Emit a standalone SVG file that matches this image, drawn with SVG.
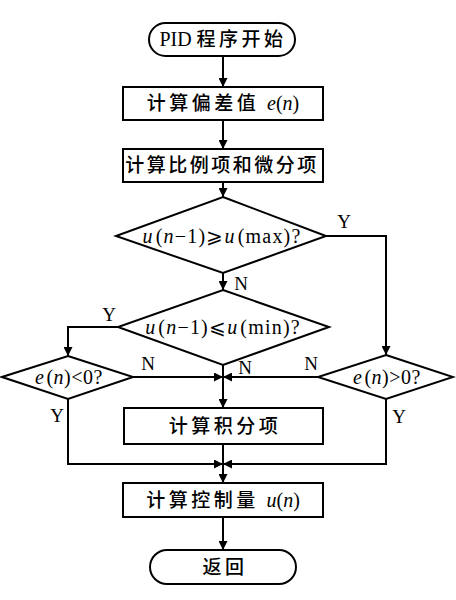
<svg xmlns="http://www.w3.org/2000/svg" width="456" height="600" viewBox="0 0 456 600">
<defs>
<marker id="ah" viewBox="0 0 10 10" refX="10" refY="5" markerWidth="10" markerHeight="9" markerUnits="userSpaceOnUse" orient="auto">
<path d="M0,0 L10,5 L0,10 Z" fill="#000"/>
</marker>
</defs>
<style>
.s{fill:#fff;stroke:#000;stroke-width:2}
.c{fill:none;stroke:#000;stroke-width:2}
.t{font-family:"Noto Sans CJK SC","Liberation Serif",serif;font-size:19px;font-weight:500;letter-spacing:3.5px;text-anchor:middle;fill:#000}
.m{font-family:"Liberation Serif","DejaVu Serif","Noto Sans CJK SC",serif;font-size:20px;letter-spacing:1.2px;text-anchor:middle;fill:#000}
.i{font-style:italic}
.l{font-family:"Liberation Serif",serif;font-size:19px;fill:#000;text-anchor:middle}
</style>
<rect width="456" height="600" fill="#fff"/>
<g id="connectors">
<line class="c" x1="223" y1="56" x2="223" y2="87" marker-end="url(#ah)"/>
<line class="c" x1="223" y1="120" x2="223" y2="149" marker-end="url(#ah)"/>
<line class="c" x1="223" y1="182" x2="223" y2="197" marker-end="url(#ah)"/>
<line class="c" x1="223" y1="273" x2="223" y2="290" marker-end="url(#ah)"/>
<polyline class="c" points="326,236 386,236 386,355" marker-end="url(#ah)"/>
<polyline class="c" points="118,327 68,327 68,356" marker-end="url(#ah)"/>
<line class="c" x1="133" y1="377" x2="223" y2="377" marker-end="url(#ah)"/>
<line class="c" x1="318" y1="377" x2="223" y2="377" marker-end="url(#ah)"/>
<line class="c" x1="223" y1="365" x2="223" y2="408" marker-end="url(#ah)"/>
<polyline class="c" points="68,399 68,464 223,464" marker-end="url(#ah)"/>
<polyline class="c" points="386,399 386,464 223,464" marker-end="url(#ah)"/>
<line class="c" x1="223" y1="444" x2="223" y2="483" marker-end="url(#ah)"/>
<line class="c" x1="223" y1="517" x2="223" y2="550" marker-end="url(#ah)"/>
<text class="l" x="344" y="228">Y</text>
<text class="l" x="241" y="290">N</text>
<text class="l" x="109" y="321">Y</text>
<text class="l" x="148" y="370">N</text>
<text class="l" x="311" y="370">N</text>
<text class="l" x="245" y="374">N</text>
<text class="l" x="57" y="422">Y</text>
<text class="l" x="399" y="423">Y</text>
</g>
<g id="start">
<rect class="s" x="149" y="23" width="146" height="33" rx="16.5"/>
<text class="t" x="223" y="46"><tspan style="font-family:'Liberation Serif',serif;font-size:20px;font-weight:normal;letter-spacing:0">PID </tspan>程序开始</text>
</g>
<g id="calc-error">
<rect class="s" x="123" y="87" width="200" height="33"/>
<text class="t" x="223" y="110">计算偏差值 <tspan class="m i" style="letter-spacing:0">e</tspan><tspan class="m" style="letter-spacing:0">(</tspan><tspan class="m i" style="letter-spacing:0">n</tspan><tspan class="m" style="letter-spacing:0">)</tspan></text>
</g>
<g id="calc-pd">
<rect class="s" x="123" y="149" width="200" height="33"/>
<text class="t" x="222" y="172" style="letter-spacing:2.5px">计算比例项和微分项</text>
</g>
<g id="check-max">
<polygon class="s" points="223,197 326,236 223,273 116,236"/>
<text class="m" x="222" y="243"><tspan class="i">u</tspan><tspan dx="2">(</tspan><tspan class="i">n</tspan>−1)⩾<tspan class="i">u</tspan><tspan dx="2">(max)?</tspan></text>
</g>
<g id="check-min">
<polygon class="s" points="223,290 329,327 223,365 118,327"/>
<text class="m" x="223" y="334"><tspan class="i">u</tspan><tspan dx="2">(</tspan><tspan class="i">n</tspan>−1)⩽<tspan class="i">u</tspan><tspan dx="2">(min)?</tspan></text>
</g>
<g id="check-neg">
<polygon class="s" points="68,356 133,377 68,399 2,377"/>
<text class="m" x="69" y="384" style="letter-spacing:0.5px"><tspan class="i">e</tspan><tspan dx="2">(</tspan><tspan class="i">n</tspan>)&lt;0?</text>
</g>
<g id="check-pos">
<polygon class="s" points="386,355 453,377 386,399 318,377"/>
<text class="m" x="387" y="384" style="letter-spacing:0.5px"><tspan class="i">e</tspan><tspan dx="2">(</tspan><tspan class="i">n</tspan>)&gt;0?</text>
</g>
<g id="calc-i">
<rect class="s" x="124" y="408" width="199" height="36"/>
<text class="t" x="225" y="433">计算积分项</text>
</g>
<g id="calc-u">
<rect class="s" x="123" y="483" width="200" height="34"/>
<text class="t" x="223" y="507">计算控制量 <tspan class="m i" style="letter-spacing:0">u</tspan><tspan class="m" style="letter-spacing:0">(</tspan><tspan class="m i" style="letter-spacing:0">n</tspan><tspan class="m" style="letter-spacing:0">)</tspan></text>
</g>
<g id="return">
<rect class="s" x="150" y="550" width="146" height="34" rx="17"/>
<text class="t" x="225" y="574">返回</text>
</g>
</svg>
